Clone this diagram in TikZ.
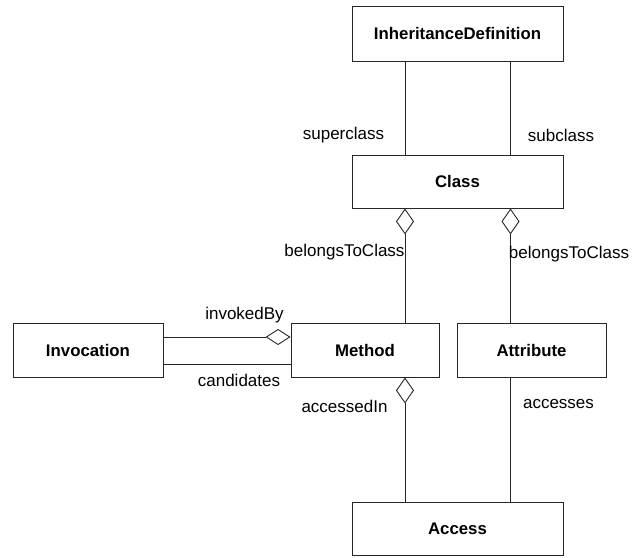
\documentclass[tikz,border=0pt]{standalone}
\usepackage{fontspec}
\setmainfont{Liberation Sans}
\usetikzlibrary{arrows.meta}
\begin{document}
\begin{tikzpicture}[x=1pt,y=-1pt,
  every node/.style={font=\fontsize{17}{20}\selectfont},
  cbox/.style={draw=black!85, line width=0.9pt, rectangle, inner sep=0pt, font=\fontsize{16.8}{20}\selectfont\bfseries},
  conn/.style={draw=black!85, line width=0.9pt},
  dia/.style={Diamond[open, length=26pt, width=18pt, fill=white]},
  hdia/.style={Diamond[open, length=25pt, width=16pt, fill=white]},
  lbl/.style={inner sep=0pt}]
\useasboundingbox (0,0) rectangle (640,557);
\node[cbox, minimum width=211pt, minimum height=55pt] (idef) at (457.5,33.5) {InheritanceDefinition};
\node[cbox, minimum width=211pt, minimum height=53pt] (cls) at (457.5,181.5) {Class};
\node[cbox, minimum width=148pt, minimum height=54pt] (meth) at (365,350) {Method};
\node[cbox, minimum width=150pt, minimum height=54pt] (inv) at (88,350) {Invocation};
\node[cbox, minimum width=149pt, minimum height=54pt] (attr) at (531.5,350) {Attribute};
\node[cbox, minimum width=211pt, minimum height=53pt] (acc) at (457.5,528.5) {Access};
\coordinate (xa) at (405,0);
\coordinate (xb) at (510.5,0);
\coordinate (ya) at (0,337);
\coordinate (yb) at (0,364);
% connectors
\draw[conn] (idef.south -| xa) -- (cls.north -| xa);
\draw[conn] (idef.south -| xb) -- (cls.north -| xb);
\draw[conn, {Diamond[open, length=26pt, width=18pt, fill=white]}-] (cls.south -| xa) -- (meth.north -| xa);
\draw[conn, {Diamond[open, length=26pt, width=18pt, fill=white]}-] (cls.south -| xb) -- (attr.north -| xb);
\draw[conn, {Diamond[open, length=26pt, width=18pt, fill=white]}-] (meth.south -| xa) -- (acc.north -| xa);
\draw[conn] (attr.south -| xb) -- (acc.north -| xb);
\draw[conn, -{Diamond[open, length=25pt, width=16pt, fill=white]}] (inv.east |- ya) -- (meth.west |- ya);
\draw[conn] (inv.east |- yb) -- (meth.west |- yb);
% labels
\node[lbl] (l1) at (343.5,135) {superclass};
\node[lbl] (l2) at (561,135) {subclass};
\node[lbl] (l3) at (344.5,252) {belongsToClass};
\node[lbl] (l4) at (569,254) {belongsToClass};
\node[lbl] (l5) at (244.5,315) {invokedBy};
\node[lbl] (l6) at (239,380) {candidates};
\node[lbl] (l7) at (344.5,406) {accessedIn};
\node[lbl] (l8) at (558.5,404) {accesses};
\end{tikzpicture}
\end{document}
